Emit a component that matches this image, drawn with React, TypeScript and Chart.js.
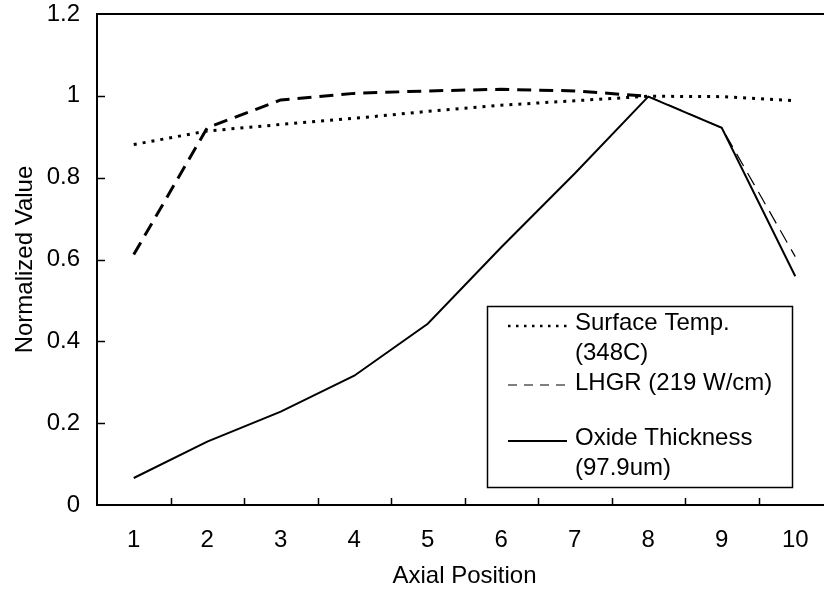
import React, { useEffect, useRef } from "react";
import { Chart, registerables } from "chart.js";

Chart.register(...registerables);

// Axial positions along the rod and the normalized profiles at each one
const positions = ["1", "2", "3", "4", "5", "6", "7", "8", "9", "10"];
const surfaceTemp = [0.881, 0.914, 0.93, 0.945, 0.962, 0.977, 0.988, 0.999, 0.998, 0.988];
const lhgr = [0.612, 0.922, 0.99, 1.006, 1.012, 1.016, 1.012, 0.999, 0.922, 0.607];
const oxideThickness = [0.066, 0.155, 0.228, 0.316, 0.443, 0.63, 0.81, 0.998, 0.922, 0.559];

const seriesNames = ["Surface Temp. (348C)", "LHGR (219 W/cm)", "Oxide Thickness (97.9um)"];
const legendText = [["Surface Temp.", "(348C)"], ["LHGR (219 W/cm)"], ["Oxide Thickness", "(97.9um)"]];

const yMin = 0;
const yMax = 1.2;
const yStep = 0.2;

const FONT = "'Liberation Sans', Arial, Helvetica, sans-serif";
const FONT_SIZE = 24;

// Frame top edge, inward tick marks and the boxed legend
const framePlugin = {
  id: "frameAndLegend",
  afterDraw(chart: any) {
    const { ctx, chartArea: a, scales } = chart;
    const xs = scales.x;
    const ys = scales.y;
    ctx.save();
    ctx.strokeStyle = "#000";
    ctx.lineWidth = 2;
    ctx.beginPath();
    ctx.moveTo(a.left - 1, a.top);
    ctx.lineTo(a.right, a.top);
    ctx.stroke();

    ctx.lineWidth = 1.5;
    ctx.beginPath();
    for (let i = 0; i < positions.length - 1; i++) {
      const px = Math.round((xs.getPixelForValue(i) + xs.getPixelForValue(i + 1)) / 2) + 0.5;
      ctx.moveTo(px, a.bottom);
      ctx.lineTo(px, a.bottom - 7);
    }
    ys.ticks.forEach((t: any) => {
      if (t.value > yMin + 1e-9 && t.value < yMax - 1e-9) {
        const py = Math.round(ys.getPixelForValue(t.value)) + 0.5;
        ctx.moveTo(a.left, py);
        ctx.lineTo(a.left + 8, py);
      }
    });
    ctx.stroke();

    // legend box
    const box = { left: 487, top: 306, right: 792, bottom: 487 };
    ctx.fillStyle = "#fff";
    ctx.fillRect(box.left, box.top, box.right - box.left, box.bottom - box.top);
    ctx.lineWidth = 1.5;
    ctx.strokeRect(box.left + 0.5, box.top + 0.5, box.right - box.left, box.bottom - box.top);

    const sampleL = box.left + 21;
    const sampleR = box.left + 80;
    const textX = box.left + 88;
    const rowTops = [17, 77, 132];
    const lineGap = 30;
    const styles = [
      { dash: [2.5, 5.5], width: 2.5, dy: 3 },
      { dash: [9, 7], width: 1.2, dy: 2 },
      { dash: [], width: 1.8, dy: 3 },
    ];
    ctx.font = `${FONT_SIZE}px ${FONT}`;
    ctx.fillStyle = "#000";
    ctx.textBaseline = "middle";
    ctx.textAlign = "left";
    legendText.forEach((lines, i) => {
      const y0 = box.top + rowTops[i];
      ctx.save();
      ctx.setLineDash(styles[i].dash);
      ctx.lineWidth = styles[i].width;
      ctx.beginPath();
      ctx.moveTo(sampleL, y0 + styles[i].dy);
      ctx.lineTo(sampleR, y0 + styles[i].dy);
      ctx.stroke();
      ctx.restore();
      lines.forEach((s, j) => ctx.fillText(s, textX, y0 + j * lineGap));
    });
    ctx.restore();
  },
};

export default function App() {
  const canvasRef = useRef<HTMLCanvasElement | null>(null);

  useEffect(() => {
    if (!canvasRef.current) return;
    Chart.defaults.font.family = FONT;
    Chart.defaults.color = "#000";
    const chart = new Chart(canvasRef.current, {
      type: "line",
      data: {
        labels: positions,
        datasets: [
          {
            label: seriesNames[0],
            data: surfaceTemp,
            borderColor: "#000",
            borderWidth: 3,
            borderDash: [3, 6],
            pointRadius: 0,
            tension: 0,
            fill: false,
          },
          {
            label: seriesNames[1],
            data: lhgr,
            borderColor: "#000",
            borderWidth: 3,
            borderDash: [14, 8],
            pointRadius: 0,
            tension: 0,
            fill: false,
            segment: {
              borderWidth: (c: any) => (c.p0DataIndex >= 7 ? 1.2 : 3),
            },
          },
          {
            label: seriesNames[2],
            data: oxideThickness,
            borderColor: "#000",
            borderWidth: 2,
            pointRadius: 0,
            tension: 0,
            fill: false,
          },
        ],
      },
      options: {
        responsive: false,
        animation: false,
        layout: { padding: { top: 14, right: 8, bottom: 0, left: 0 } },
        plugins: {
          legend: { display: false },
          tooltip: { enabled: false },
        },
        scales: {
          x: {
            type: "category",
            offset: true,
            grid: { display: false, drawTicks: false, tickLength: 0 },
            border: { display: true, color: "#000", width: 2 },
            ticks: { padding: 21, font: { size: FONT_SIZE }, color: "#000", maxRotation: 0 },
            title: {
              display: true,
              text: "Axial Position",
              font: { size: FONT_SIZE },
              color: "#000",
              padding: { top: 0, bottom: 1 },
            },
            afterFit: (s: any) => {
              s.height = 87;
              s.paddingLeft = 0;
              s.paddingRight = 0;
            },
          },
          y: {
            type: "linear",
            min: yMin,
            max: yMax,
            grid: { display: false, drawTicks: false, tickLength: 0 },
            border: { display: true, color: "#000", width: 2 },
            ticks: {
              stepSize: yStep,
              padding: 17,
              font: { size: FONT_SIZE },
              color: "#000",
              callback: (v: any) => Number(v).toFixed(1).replace(/\.0$/, ""),
            },
            title: {
              display: true,
              text: "Normalized Value",
              font: { size: FONT_SIZE },
              color: "#000",
              padding: { top: 11, bottom: 0 },
            },
            afterFit: (s: any) => {
              s.width = 97;
              s.paddingTop = 0;
              s.paddingBottom = 0;
            },
          },
        },
      },
      plugins: [framePlugin],
    });
    return () => chart.destroy();
  }, []);

  return (
    <div
      style={{
        position: "fixed",
        left: 0,
        top: 0,
        width: 824,
        height: 592,
        overflow: "hidden",
        background: "#fff",
      }}
    >
      <canvas ref={canvasRef} width={840} height={592} style={{ display: "block" }} />
    </div>
  );
}
